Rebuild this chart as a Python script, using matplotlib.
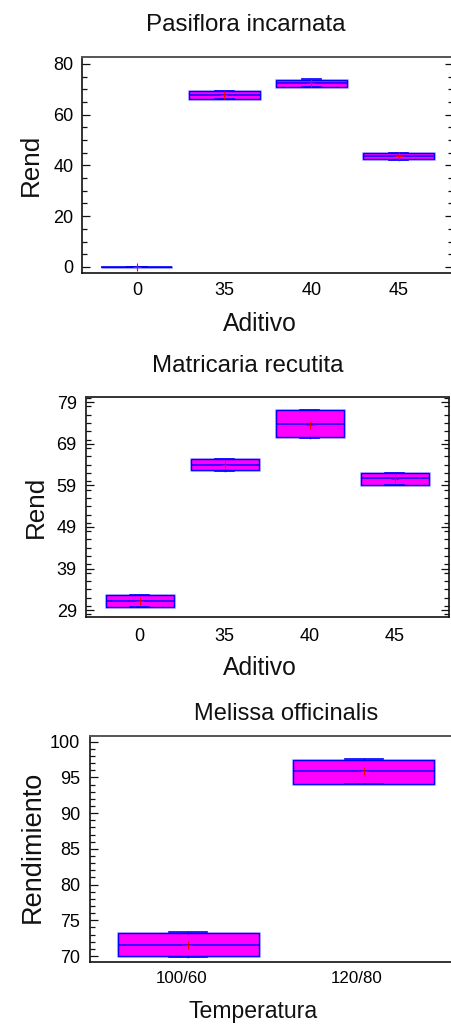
import matplotlib
matplotlib.use("Agg")
import matplotlib.pyplot as plt
from matplotlib import font_manager as fm
from matplotlib.ticker import MultipleLocator, FixedLocator
import matplotlib.patheffects as pe
import matplotlib.transforms as mtransforms

# ---------------- data ----------------
# Panel 1: Pasiflora incarnata
p1_title = "Pasiflora incarnata"
p1_cats = ["0", "35", "40", "45"]
p1_q1 = [0.0, 66.1, 70.9, 42.4]
p1_med = [0.0, 67.7, 72.3, 43.7]
p1_q3 = [0.0, 69.3, 73.7, 44.7]
p1_lo = [0.0, 66.0, 70.8, 42.3]
p1_hi = [0.0, 69.5, 74.0, 44.9]
p1_mean = [0.0, 67.7, 72.4, 43.9]
p1_yticks = [0, 20, 40, 60, 80]

# Panel 2: Matricaria recutita
p2_title = "Matricaria recutita"
p2_cats = ["0", "35", "40", "45"]
p2_q1 = [29.8, 62.6, 70.5, 59.2]
p2_med = [31.3, 64.0, 73.7, 60.8]
p2_q3 = [32.6, 65.3, 77.0, 61.9]
p2_lo = [29.7, 62.5, 70.4, 59.1]
p2_hi = [32.7, 65.4, 77.1, 62.0]
p2_mean = [31.2, 63.8, 73.6, 60.5]
p2_yticks = [29, 39, 49, 59, 69, 79]

# Panel 3: Melissa officinalis
p3_title = "Melissa officinalis"
p3_cats = ["100/60", "120/80"]
p3_q1 = [69.95, 94.1]
p3_med = [71.6, 95.9]
p3_q3 = [73.2, 97.5]
p3_lo = [69.9, 94.05]
p3_hi = [73.3, 97.6]
p3_mean = [71.6, 95.9]
p3_yticks = [70, 75, 80, 85, 90, 95, 100]

# ---------------- fonts ----------------
_names = {f.name for f in fm.fontManager.ttflist}
HAS_NARROW = "Liberation Sans Narrow" in _names
NARROW = "Liberation Sans Narrow" if HAS_NARROW else "Liberation Sans"
K = 1.0 if HAS_NARROW else 0.87
plt.rcParams["font.family"] = ["Liberation Sans", "DejaVu Sans"]

W, H = 452, 1027
fig = plt.figure(figsize=(W / 100, H / 100), dpi=100)
fig.patch.set_facecolor("white")


def fx(px):
    return px / W


def fy(py):
    return 1 - py / H


def make_stats(q1, med, q3, lo, hi, mean):
    out = []
    for a, m, b, l, h, mu in zip(q1, med, q3, lo, hi, mean):
        out.append(dict(q1=a, med=m, q3=b, whislo=l, whishi=h, mean=mu, fliers=[]))
    return out


def panel(rect, stats, cats, xlim, ylim, yticks, minor, width, ylabel_pad,
          xlabel_pad, top_color="#555555"):
    ax = fig.add_axes(rect)
    pos = list(range(len(cats)))
    res = ax.bxp(stats, positions=pos, widths=width, capwidths=width * 0.27,
                 showmeans=True, showfliers=False, patch_artist=True,
                 boxprops=dict(facecolor="#ff00ff", edgecolor="#0000ff", linewidth=1.0),
                 medianprops=dict(color="#0000ff", linewidth=1.1),
                 whiskerprops=dict(color="#0000ff", linewidth=1.0),
                 capprops=dict(color="#0000ff", linewidth=1.2),
                 meanprops=dict(marker="+", markeredgecolor="#ff0000",
                                markerfacecolor="#ff0000", markersize=6,
                                markeredgewidth=0.8, linestyle="none"),
                 manage_ticks=False)
    for b in res["boxes"]:
        b.set_path_effects([pe.Stroke(linewidth=2.2, foreground="#a0a0ff", alpha=0.6),
                            pe.Normal()])
    ax.set_xlim(*xlim)
    ax.set_ylim(*ylim)
    ax.xaxis.set_major_locator(FixedLocator(pos))
    ax.set_xticklabels(cats)
    ax.yaxis.set_major_locator(FixedLocator(yticks))
    ax.yaxis.set_minor_locator(MultipleLocator(minor))
    ax.tick_params(axis="y", which="both", direction="in", left=True, right=True,
                   width=0.9, color="#111111")
    ax.tick_params(axis="y", which="major", length=5.8, pad=ylabel_pad,
                   labelsize=13)
    ax.tick_params(axis="y", which="minor", length=3.4)
    ax.tick_params(axis="x", which="both", length=0, pad=xlabel_pad, labelsize=13)
    for s in ax.spines.values():
        s.set_linewidth(1.2)
        s.set_color("#111111")
    ax.spines["top"].set_color(top_color)
    ax.spines["top"].set_linewidth(1.4)
    return ax


# Panel 1
ax1 = panel([fx(82.3), fy(273.3), (453 - 82.3) / W, 216 / H],
            make_stats(p1_q1, p1_med, p1_q3, p1_lo, p1_hi, p1_mean),
            p1_cats, (-0.627, 3.625), (-2.5, 82.6), p1_yticks, 5, 0.815, 6.5, 6.6)
# Panel 2
ax2 = panel([fx(86.3), fy(616.5), (449 - 86.3) / W, 219.8 / H],
            make_stats(p2_q1, p2_med, p2_q3, p2_lo, p2_hi, p2_mean),
            p2_cats, (-0.626, 3.64), (27.5, 80.3), p2_yticks, 2, 0.80, 6.8, 8.0,
            top_color="#333333")
# Panel 3
ax3 = panel([fx(90.3), fy(962.3), (460.3 - 90.3) / W, 226.3 / H],
            make_stats(p3_q1, p3_med, p3_q3, p3_lo, p3_hi, p3_mean),
            p3_cats, (-0.558, 1.55), (69.12, 100.8), p3_yticks, 1, 0.803, 7.2, 6.2)
for lab in ax3.get_xticklabels():
    lab.set_fontfamily(NARROW)
    lab.set_fontsize(14.0 * K)
    lab.set_transform(lab.get_transform() +
                      mtransforms.ScaledTranslation(-7 / 100, 0, fig.dpi_scale_trans))

# ---------------- titles and axis labels ----------------
fig.text(fx(246), fy(31), p1_title, ha="center", va="baseline",
         fontsize=20 * K, family=NARROW, color="#111111")
fig.text(fx(260), fy(330.7), "Aditivo", ha="center", va="baseline",
         fontsize=20.5 * K, family=NARROW, color="#111111")
fig.text(fx(38.3), fy(165), "Rend", ha="center", va="baseline", rotation=90,
         rotation_mode="anchor", fontsize=21.5 * K, family=NARROW, color="#111111")

fig.text(fx(247.5), fy(371.7), p2_title, ha="center", va="baseline",
         fontsize=20 * K, family=NARROW, color="#111111")
fig.text(fx(260), fy(675), "Aditivo", ha="center", va="baseline",
         fontsize=20.5 * K, family=NARROW, color="#111111")
fig.text(fx(43.3), fy(506.7), "Rend", ha="center", va="baseline", rotation=90,
         rotation_mode="anchor", fontsize=21.5 * K, family=NARROW, color="#111111")

fig.text(fx(286), fy(720), p3_title, ha="center", va="baseline",
         fontsize=17, family="Liberation Sans", color="#111111")
fig.text(fx(253), fy(1018), "Temperatura", ha="center", va="baseline",
         fontsize=19 * K, family=NARROW, color="#111111")
fig.text(fx(39.3), fy(847), "Rendimiento", ha="center", va="baseline", rotation=90,
         rotation_mode="anchor", fontsize=22.5 * K, family=NARROW, color="#111111")

fig.savefig("out.png", dpi=100, facecolor="white")
